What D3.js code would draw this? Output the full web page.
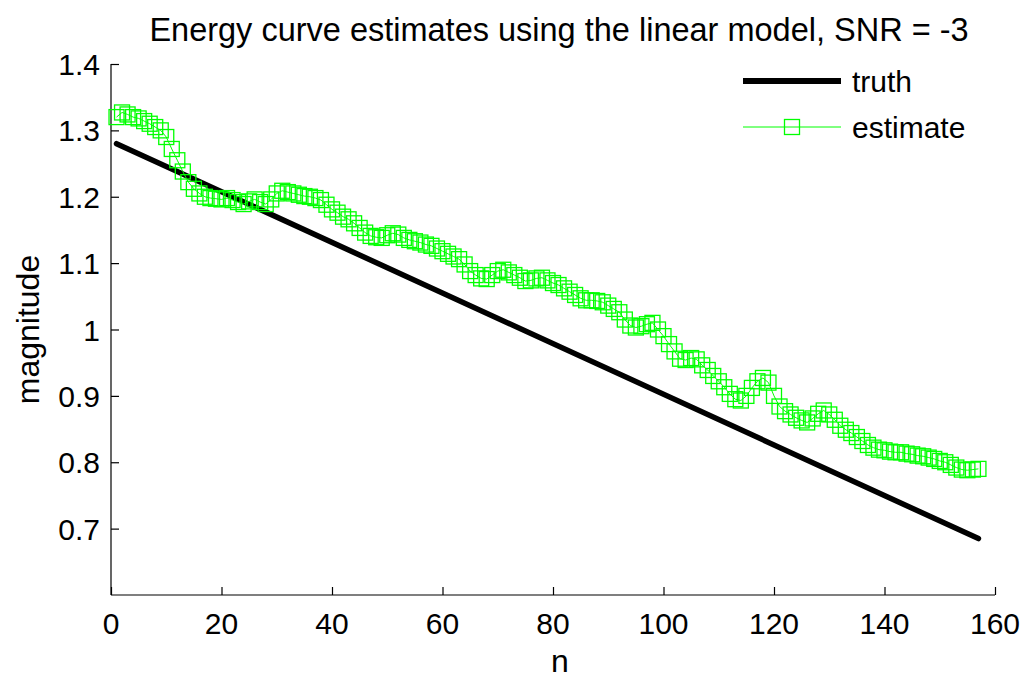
<!DOCTYPE html>
<html>
<head>
<meta charset="utf-8">
<script src="https://cdn.jsdelivr.net/npm/d3@7/dist/d3.min.js"></script>
<style>
  body { margin: 0; background: #fff; }
  svg text { font-family: "Liberation Sans", Arial, sans-serif; fill: #000; }
</style>
</head>
<body>
<div id="chart"></div>
<script>
const titleText = 'Energy curve estimates using the linear model, SNR = -3';
const xTicks = [0, 20, 40, 60, 80, 100, 120, 140, 160];
const yTicks = [0.7, 0.8, 0.9, 1, 1.1, 1.2, 1.3, 1.4];

// truth: straight line, endpoints
const truthN = [1, 157];
const truthV = [1.28, 0.685];

// estimate, n = 1..157
const estimateV = [
  1.320, 1.327, 1.324, 1.320, 1.318, 1.314, 1.310, 1.305, 1.300, 1.290,
  1.272, 1.255, 1.238, 1.222, 1.212, 1.205, 1.200, 1.198, 1.197, 1.196,
  1.198, 1.195, 1.192, 1.189, 1.193, 1.196, 1.192, 1.189, 1.196, 1.205,
  1.209, 1.207, 1.205, 1.203, 1.201, 1.200, 1.198, 1.195, 1.188, 1.181,
  1.176, 1.170, 1.166, 1.160, 1.153, 1.146, 1.141, 1.139, 1.138, 1.142,
  1.145, 1.143, 1.138, 1.135, 1.133, 1.131, 1.128, 1.126, 1.122, 1.118,
  1.114, 1.110, 1.106, 1.098, 1.088, 1.082, 1.077, 1.076, 1.082, 1.088,
  1.090, 1.086, 1.082, 1.078, 1.073, 1.074, 1.077, 1.078, 1.074, 1.070,
  1.067, 1.062, 1.057, 1.052, 1.047, 1.044, 1.044, 1.043, 1.041, 1.036,
  1.031, 1.026, 1.015, 1.006, 1.003, 1.005, 1.008, 1.010, 1.000, 0.990,
  0.978, 0.967, 0.956, 0.954, 0.957, 0.955, 0.946, 0.939, 0.930, 0.922,
  0.913, 0.903, 0.895, 0.893, 0.900, 0.912, 0.922, 0.927, 0.920, 0.900,
  0.884, 0.877, 0.872, 0.867, 0.863, 0.860, 0.866, 0.873, 0.878, 0.872,
  0.864, 0.855, 0.849, 0.844, 0.838, 0.832, 0.826, 0.822, 0.819, 0.818,
  0.816, 0.815, 0.815, 0.813, 0.812, 0.810, 0.809, 0.807, 0.805, 0.802,
  0.800, 0.796, 0.792, 0.789, 0.788, 0.789, 0.790
];

const width = 1028, height = 679;
const margin = { left: 111, right: 33, top: 64, bottom: 84 };
const green = '#00ff00';
const markerSize = 15;

const svg = d3.select('#chart').append('svg')
    .attr('width', width)
    .attr('height', height);

const x = d3.scaleLinear().domain([0, 160]).range([margin.left, width - margin.right]);
const y = d3.scaleLinear().domain([0.6, 1.4]).range([height - margin.bottom, margin.top]);

// axes (ticks pointing inward, MATLAB style)
const xAxis = svg.append('g')
    .attr('transform', 'translate(0,' + (height - margin.bottom) + ')')
    .call(d3.axisTop(x).tickValues(xTicks).tickSize(8).tickFormat(d3.format('d')));
xAxis.selectAll('text').remove();
xAxis.selectAll('.domain').attr('d', 'M' + x(0) + ',0H' + x(160));

svg.append('g').selectAll('text')
    .data(xTicks)
    .enter()
    .append('text')
    .attr('x', d => x(d))
    .attr('y', height - margin.bottom + 39)
    .attr('text-anchor', 'middle')
    .attr('font-size', 30)
    .text(d => d);

const yAxis = svg.append('g')
    .attr('transform', 'translate(' + margin.left + ',0)')
    .call(d3.axisRight(y).tickValues(yTicks).tickSize(8));
yAxis.selectAll('text').remove();
yAxis.selectAll('.domain').attr('d', 'M0,' + y(1.4) + 'V' + y(0.6));

svg.append('g').selectAll('text')
    .data(yTicks)
    .enter()
    .append('text')
    .attr('x', margin.left - 11)
    .attr('y', d => y(d) + 11)
    .attr('text-anchor', 'end')
    .attr('font-size', 30)
    .text(d => d);

svg.selectAll('.domain, .tick line').attr('stroke', '#000').attr('stroke-width', 1.2);

// truth line
const truth = truthN.map((n, i) => [n, truthV[i]]);
svg.append('path')
    .datum(truth)
    .attr('d', d3.line().x(d => x(d[0])).y(d => y(d[1])))
    .attr('fill', 'none')
    .attr('stroke', '#000')
    .attr('stroke-width', 5.5)
    .attr('stroke-linecap', 'round');

// estimate line + square markers
const est = estimateV.map((v, i) => [i + 1, v]);
svg.append('path')
    .datum(est)
    .attr('d', d3.line().x(d => x(d[0])).y(d => y(d[1])))
    .attr('fill', 'none')
    .attr('stroke', green)
    .attr('stroke-width', 1);

svg.append('g').selectAll('rect')
    .data(est)
    .enter()
    .append('rect')
    .attr('x', d => x(d[0]) - markerSize / 2)
    .attr('y', d => y(d[1]) - markerSize / 2)
    .attr('width', markerSize)
    .attr('height', markerSize)
    .attr('fill', 'none')
    .attr('stroke', green)
    .attr('stroke-width', 1.3);

// title and labels
svg.append('text')
    .attr('x', 559)
    .attr('y', 41)
    .attr('text-anchor', 'middle')
    .attr('font-size', 32.5)
    .text(titleText);

svg.append('text')
    .attr('x', 560)
    .attr('y', 672)
    .attr('text-anchor', 'middle')
    .attr('font-size', 32)
    .text('n');

svg.append('text')
    .attr('transform', 'translate(39,' + y(1.0) + ') rotate(-90)')
    .attr('text-anchor', 'middle')
    .attr('font-size', 32)
    .text('magnitude');

// legend
const lg = svg.append('g');
lg.append('line')
    .attr('x1', 743).attr('x2', 841)
    .attr('y1', 81).attr('y2', 81)
    .attr('stroke', '#000').attr('stroke-width', 6);
lg.append('text').attr('x', 852).attr('y', 92).attr('font-size', 30).text('truth');
lg.append('line')
    .attr('x1', 743).attr('x2', 841)
    .attr('y1', 127).attr('y2', 127)
    .attr('stroke', green).attr('stroke-width', 1);
lg.append('rect')
    .attr('x', 792 - markerSize / 2).attr('y', 127 - markerSize / 2)
    .attr('width', markerSize).attr('height', markerSize)
    .attr('fill', 'none').attr('stroke', green).attr('stroke-width', 1.3);
lg.append('text').attr('x', 852).attr('y', 138).attr('font-size', 30).text('estimate');
</script>
</body>
</html>
